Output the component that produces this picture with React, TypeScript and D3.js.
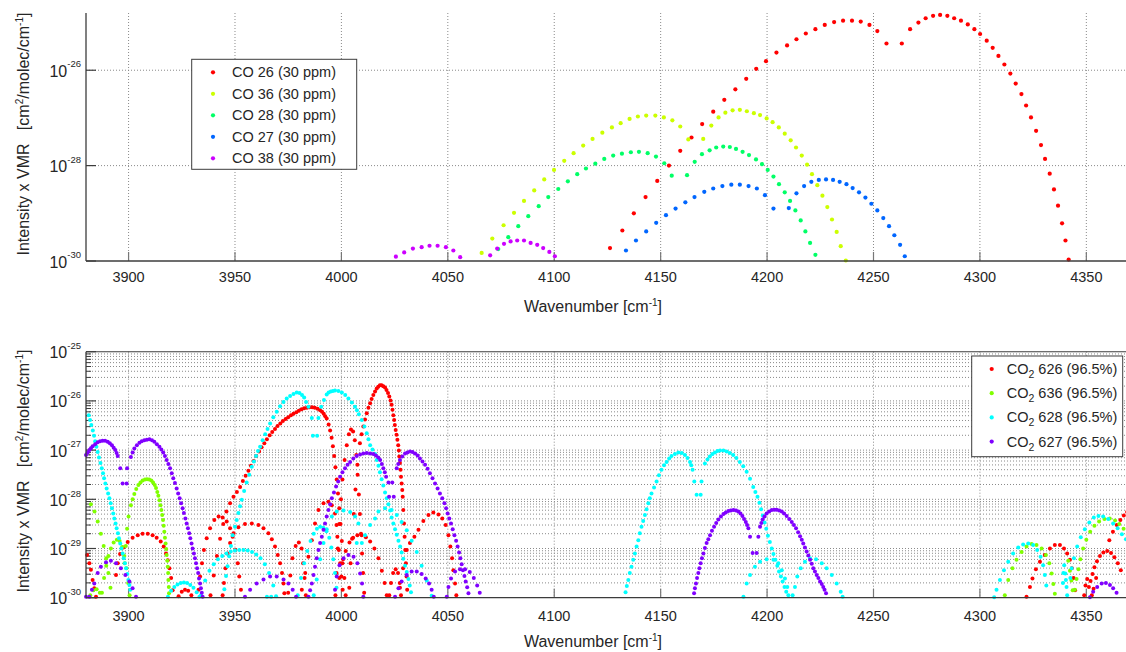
import React from 'react';
import * as d3 from 'd3';

// Each point: [wavenumber (cm^-1), log10(line intensity x VMR)]
type Pt = [number, number];

// ---------- Upper panel: CO isotopologues (30 ppm) ----------
const co26: Pt[] = [
  [4126.2,-29.73],[4132.0,-29.36],[4137.4,-29.00],[4142.9,-28.66],[4148.4,-28.32],[4153.9,-28.00],[4159.2,-27.69],
  [4164.5,-27.41],[4169.5,-27.13],[4174.7,-26.87],[4179.9,-26.62],[4185.1,-26.40],[4190.2,-26.18],[4194.9,-25.97],
  [4199.5,-25.81],[4204.4,-25.63],[4209.4,-25.48],[4213.8,-25.35],[4218.2,-25.23],[4222.7,-25.14],[4227.1,-25.05],
  [4231.5,-24.99],[4235.7,-24.96],[4239.9,-24.96],[4244.0,-24.98],[4248.1,-25.05],[4251.8,-25.18],[4256.1,-25.44],
  [4263.3,-25.44],[4267.2,-25.14],[4271.1,-25.00],[4274.5,-24.91],[4278.0,-24.86],[4281.3,-24.84],[4284.7,-24.86],
  [4287.9,-24.91],[4291.1,-24.96],[4294.3,-25.04],[4297.4,-25.14],[4300.1,-25.24],[4303.2,-25.38],[4306.0,-25.53],
  [4308.7,-25.70],[4311.5,-25.88],[4314.3,-26.07],[4316.8,-26.28],[4319.5,-26.50],[4321.7,-26.74],[4324.0,-26.99],
  [4326.4,-27.27],[4328.7,-27.57],[4330.6,-27.86],[4332.8,-28.17],[4334.8,-28.50],[4336.7,-28.84],[4338.6,-29.21],
  [4340.2,-29.57],[4341.7,-29.97],
];
const co36: Pt[] = [
  [4065.9,-29.83],[4070.9,-29.53],[4076.2,-29.25],[4081.1,-28.99],[4085.8,-28.74],[4090.6,-28.52],[4095.3,-28.29],
  [4099.9,-28.09],[4104.7,-27.90],[4109.1,-27.74],[4113.6,-27.58],[4118.0,-27.44],[4122.6,-27.31],[4127.1,-27.20],
  [4131.2,-27.11],[4135.4,-27.02],[4139.3,-26.97],[4143.2,-26.95],[4147.5,-26.95],[4151.5,-26.99],[4155.5,-27.05],
  [4159.2,-27.18],[4163.0,-27.45],[4170.0,-27.44],[4173.8,-27.16],[4177.2,-26.99],[4180.4,-26.89],[4183.8,-26.84],
  [4187.2,-26.83],[4190.5,-26.86],[4193.8,-26.90],[4196.7,-26.94],[4199.8,-27.01],[4202.6,-27.09],[4205.5,-27.20],
  [4208.3,-27.33],[4211.1,-27.47],[4213.6,-27.62],[4216.3,-27.79],[4218.8,-27.98],[4221.1,-28.18],[4223.6,-28.41],
  [4226.0,-28.63],[4228.3,-28.87],[4230.5,-29.13],[4232.7,-29.39],[4234.6,-29.69],[4237.0,-29.99],
];
const co28: Pt[] = [
  [4073.7,-29.75],[4078.4,-29.50],[4083.1,-29.27],[4087.8,-29.06],[4092.7,-28.85],[4097.2,-28.66],[4101.9,-28.49],
  [4106.4,-28.33],[4110.8,-28.18],[4114.9,-28.06],[4119.3,-27.96],[4123.5,-27.86],[4127.7,-27.79],[4131.8,-27.75],
  [4136.0,-27.72],[4139.8,-27.71],[4143.9,-27.74],[4147.8,-27.81],[4151.7,-27.95],[4155.2,-28.21],[4162.4,-28.20],
  [4166.0,-27.92],[4169.4,-27.76],[4173.0,-27.68],[4176.1,-27.62],[4179.4,-27.60],[4182.5,-27.61],[4185.4,-27.65],
  [4188.5,-27.71],[4191.5,-27.78],[4194.8,-27.87],[4197.6,-27.97],[4200.3,-28.09],[4203.0,-28.23],[4205.6,-28.39],
  [4208.3,-28.56],[4210.8,-28.74],[4213.3,-28.94],[4215.8,-29.15],[4218.0,-29.38],[4220.2,-29.62],[4222.7,-29.87],
];
const co27: Pt[] = [
  [4133.7,-29.78],[4138.4,-29.57],[4143.2,-29.38],[4147.9,-29.20],[4152.5,-29.04],[4157.0,-28.90],[4161.6,-28.77],
  [4165.9,-28.66],[4170.5,-28.55],[4174.7,-28.48],[4179.0,-28.43],[4183.2,-28.40],[4187.2,-28.40],[4191.3,-28.43],
  [4195.2,-28.48],[4199.0,-28.62],[4203.0,-28.90],[4210.2,-28.89],[4213.8,-28.58],[4217.4,-28.43],[4220.8,-28.34],
  [4224.3,-28.30],[4227.7,-28.29],[4231.0,-28.30],[4234.1,-28.34],[4237.3,-28.39],[4240.2,-28.47],[4243.2,-28.56],
  [4246.2,-28.67],[4249.0,-28.80],[4251.8,-28.94],[4254.6,-29.10],[4257.3,-29.27],[4259.8,-29.46],[4262.5,-29.66],
  [4264.7,-29.90],
];
const co38: Pt[] = [
  [4025.6,-29.91],[4029.5,-29.82],[4033.6,-29.74],[4037.7,-29.71],[4041.4,-29.68],[4045.2,-29.68],[4049.1,-29.71],
  [4052.6,-29.78],[4055.8,-29.92],[4069.9,-29.88],[4073.2,-29.74],[4076.4,-29.64],[4079.5,-29.59],[4082.6,-29.57],
  [4085.8,-29.57],[4088.9,-29.62],[4092.0,-29.66],[4094.8,-29.73],[4097.7,-29.81],[4100.3,-29.90],
];

// ---------- Lower panel: CO2 isotopologues (96.5%) ----------
const co2_626: Pt[] = [
  [3880.5,-29.13],[3881.6,-29.30],[3882.3,-29.43],[3883.1,-29.64],[3883.9,-29.81],[3884.7,-29.98],
  [3894.1,-29.54],[3894.9,-29.30],[3896.0,-29.11],[3897.5,-28.98],[3899.6,-28.87],[3901.9,-28.78],[3904.3,-28.73],
  [3906.6,-28.70],[3909.0,-28.70],[3911.3,-28.73],[3913.2,-28.78],[3915.1,-28.86],[3916.5,-28.96],[3917.6,-29.10],
  [3918.4,-29.24],[3919.2,-29.40],[3920.0,-29.60],[3920.7,-29.85],
  [3923.5,-29.97],[3925.0,-29.88],[3926.5,-29.84],[3928.0,-29.86],[3929.5,-29.95],
  [3932.9,-29.84],[3933.6,-29.57],[3934.5,-29.30],[3935.4,-29.03],[3936.7,-28.79],[3938.3,-28.59],[3940.3,-28.42],
  [3942.3,-28.35],[3944.2,-28.37],[3946.1,-28.45],[3947.7,-28.59],[3948.9,-28.76],[3950.2,-29.03],[3951.3,-29.30],
  [3952.0,-29.57],[3952.8,-29.84],
  [3944.2,-29.95],[3944.8,-29.70],[3945.5,-29.40],[3946.5,-29.10],[3947.7,-28.89],[3949.3,-28.69],[3951.6,-28.57],
  [3954.7,-28.50],[3957.9,-28.49],[3961.0,-28.52],[3963.4,-28.59],[3965.7,-28.69],[3967.3,-28.81],[3968.8,-28.96],
  [3970.1,-29.13],[3971.2,-29.30],[3972.1,-29.50],[3972.8,-29.71],[3973.2,-29.91],
  [3938.5,-29.95],[3940.0,-29.55],[3941.5,-29.15],[3943.0,-28.80],[3944.5,-28.50],[3946.0,-28.25],[3947.7,-28.08],
  [3949.3,-27.95],[3952.4,-27.75],[3955.0,-27.52],[3957.5,-27.32],[3960.0,-27.12],[3962.5,-26.94],[3965.0,-26.78],
  [3967.5,-26.63],[3970.0,-26.51],[3972.5,-26.41],[3975.0,-26.33],[3977.5,-26.26],[3980.0,-26.20],[3982.5,-26.15],
  [3985.0,-26.13],[3987.5,-26.14],[3990.0,-26.19],[3991.7,-26.26],[3993.1,-26.36],[3994.0,-26.48],[3994.7,-26.60],
  [3995.4,-26.75],[3996.0,-26.92],[3996.6,-27.12],[3997.2,-27.35],[3997.8,-27.60],[3998.4,-27.88],[3999.0,-28.18],
  [3999.6,-28.50],[4000.2,-28.85],[4000.8,-29.22],[4001.4,-29.60],[4002.0,-29.95],
  [3950.9,-27.85],[3953.7,-27.63],[3956.3,-27.42],[3958.8,-27.22],[3961.3,-27.03],[3963.8,-26.86],[3966.3,-26.70],
  [3968.8,-26.57],[3971.3,-26.46],[3973.8,-26.37],[3976.3,-26.29],[3978.8,-26.23],[3981.3,-26.17],[3983.8,-26.14],
  [3986.3,-26.13],[3988.8,-26.16],[3990.9,-26.22],[3992.4,-26.31],
  [3975.0,-29.90],[3976.0,-29.55],[3977.0,-29.20],[3978.5,-28.95],[3980.0,-28.88],[3981.3,-29.00],[3982.0,-29.30],
  [3982.7,-29.60],[3983.3,-29.95],
  [3981.4,-29.84],[3983.0,-29.50],[3984.5,-29.17],[3986.1,-28.83],[3987.6,-28.49],[3989.2,-28.22],[3991.6,-28.08],
  [3993.9,-28.05],[3995.5,-28.12],[3997.0,-28.29],[3997.7,-28.52],[3998.1,-28.76],[3998.8,-29.03],[3999.4,-29.30],
  [4000.0,-29.57],[4000.6,-29.84],
  [3997.2,-29.95],[3997.7,-29.50],[3998.3,-29.00],[3999.0,-28.50],[3999.8,-28.00],[4000.5,-27.60],[4001.5,-27.20],
  [4002.5,-26.90],[4003.5,-26.68],[4004.5,-26.58],[4005.5,-26.62],[4006.3,-26.80],[4007.0,-27.10],[4007.6,-27.50],
  [4008.2,-27.90],[4008.7,-28.30],[4009.2,-28.70],[4009.7,-29.10],[4010.2,-29.50],[4010.7,-29.90],
  [3999.0,-29.60],[4000.5,-29.30],[4002.0,-29.05],[4003.8,-28.88],[4005.5,-28.78],[4007.5,-28.73],[4009.5,-28.73],
  [4011.5,-28.77],[4013.5,-28.86],[4015.5,-29.00],[4017.4,-29.20],[4019.0,-29.45],[4020.3,-29.70],[4021.3,-29.95],
  [4003.7,-29.80],[4004.3,-29.30],[4005.0,-28.80],[4005.8,-28.30],[4006.6,-27.80],[4007.5,-27.30],[4008.7,-26.86],
  [4010.3,-26.52],[4011.9,-26.25],[4013.5,-26.05],[4015.0,-25.88],[4016.6,-25.75],[4018.1,-25.68],[4019.7,-25.70],
  [4021.2,-25.78],[4022.5,-25.91],[4023.6,-26.08],[4024.4,-26.29],[4025.1,-26.49],[4025.9,-26.69],[4026.7,-26.90],
  [4027.2,-27.13],[4027.8,-27.40],[4028.3,-27.68],[4028.8,-27.95],[4029.1,-28.22],[4029.4,-28.49],[4029.7,-28.76],
  [4030.0,-29.03],[4030.3,-29.30],[4030.6,-29.57],[4030.9,-29.84],
  [4009.5,-26.68],[4011.1,-26.38],[4012.7,-26.14],[4014.2,-25.96],[4015.8,-25.81],[4017.3,-25.71],[4018.9,-25.68],
  [4020.5,-25.73],[4021.9,-25.84],[4023.1,-25.99],[4024.0,-26.18],[4024.8,-26.39],[4025.5,-26.59],[4026.3,-26.79],
  [4027.0,-27.01],[4027.5,-27.26],[4028.0,-27.54],[4028.6,-27.81],
  [4022.5,-29.95],[4023.3,-29.70],[4024.3,-29.50],[4025.5,-29.42],[4026.6,-29.50],[4027.4,-29.70],[4028.0,-29.95],
  [4027.5,-29.80],[4029.0,-29.40],[4030.7,-29.03],[4032.2,-28.89],[4034.3,-28.76],[4036.2,-28.62],[4038.5,-28.44],
  [4040.9,-28.32],[4043.2,-28.27],[4045.6,-28.31],[4047.4,-28.39],[4049.0,-28.52],[4050.3,-28.73],[4051.2,-28.96],
  [4052.0,-29.20],[4052.6,-29.44],[4053.4,-29.71],[4054.0,-29.95],
  [4321.9,-29.98],[4323.5,-29.78],[4324.7,-29.61],[4326.3,-29.42],[4328.2,-29.27],[4330.5,-29.13],[4332.9,-29.00],
  [4335.2,-28.93],[4337.6,-28.93],[4339.5,-29.00],[4341.0,-29.10],[4342.3,-29.23],[4343.2,-29.40],[4344.0,-29.60],
  [4344.7,-29.85],
  [4349.0,-29.95],[4349.6,-29.75],[4350.4,-29.62],[4351.2,-29.78],[4352.0,-29.66],[4352.9,-29.52],[4352.6,-29.95],
  [4353.4,-29.82],[4354.6,-29.60],[4353.8,-29.38],[4355.0,-29.26],[4356.4,-29.15],[4358.0,-29.08],[4359.8,-29.05],
  [4361.6,-29.09],[4363.2,-29.18],[4364.8,-29.30],[4366.2,-29.44],
  [4360.8,-28.83],[4362.5,-28.66],[4364.3,-28.52],[4366.0,-28.42],[4367.6,-28.33],[4369.2,-28.26],
];
const co2_636: Pt[] = [
  [3882.3,-28.10],[3884.0,-28.25],[3885.5,-28.45],[3887.0,-28.70],[3888.3,-28.95],[3889.5,-29.20],[3890.5,-29.50],
  [3891.5,-29.80],
  [3882.0,-29.95],[3883.5,-29.85],[3885.0,-29.83],[3886.5,-29.90],
  [3887.5,-29.90],[3888.5,-29.60],[3889.5,-29.35],[3890.5,-29.15],[3891.7,-29.00],[3893.0,-28.88],[3894.5,-28.82],
  [3895.8,-28.85],[3897.0,-28.97],[3898.0,-29.15],[3899.0,-29.40],[3899.8,-29.70],[3900.5,-29.95],
  [3898.2,-29.30],[3898.7,-28.95],[3899.3,-28.60],[3900.0,-28.35],[3901.1,-28.12],[3902.7,-27.89],[3904.6,-27.71],
  [3906.6,-27.62],[3908.7,-27.59],[3910.7,-27.62],[3912.3,-27.71],[3913.5,-27.85],[3914.5,-28.02],[3915.4,-28.22],
  [3916.2,-28.42],[3916.8,-28.66],[3917.4,-28.90],[3917.9,-29.13],[3918.4,-29.37],[3918.7,-29.64],[3919.0,-29.91],
  [3901.9,-28.00],[3903.6,-27.79],[3905.6,-27.66],[3907.7,-27.60],[3909.7,-27.60],[3911.5,-27.66],[3912.9,-27.77],
  [3914.0,-27.93],[3915.0,-28.12],[3915.8,-28.32],[3916.5,-28.54],[3917.1,-28.78],[3917.7,-29.01],[3918.2,-29.25],
  [3918.6,-29.50],[3918.9,-29.78],
  [4311.7,-29.95],[4313.3,-29.64],[4315.3,-29.40],[4317.2,-29.23],[4319.6,-29.07],[4321.9,-28.96],[4324.3,-28.91],
  [4326.6,-28.93],[4329.0,-29.00],[4331.0,-29.13],[4332.6,-29.30],[4333.7,-29.51],[4334.5,-29.72],[4335.2,-29.92],
  [4341.5,-29.25],[4342.3,-29.45],[4343.0,-29.65],[4343.6,-29.85],
  [4344.6,-29.84],[4345.4,-29.62],[4346.3,-29.42],[4347.2,-29.22],[4348.5,-29.00],[4350.0,-28.82],[4351.8,-28.66],
  [4353.8,-28.54],[4356.0,-28.45],[4358.5,-28.40],[4361.0,-28.39],[4363.5,-28.43],[4365.5,-28.50],[4367.5,-28.60],
  [4369.5,-28.72],
];
const co2_628: Pt[] = [
  [3881.3,-26.29],[3882.5,-26.49],[3883.8,-26.71],[3884.9,-26.93],[3886.1,-27.15],[3887.4,-27.37],[3888.5,-27.57],
  [3889.7,-27.78],[3891.0,-27.98],[3892.2,-28.18],[3893.3,-28.39],[3894.4,-28.59],[3895.5,-28.79],[3896.6,-29.00],
  [3897.7,-29.20],[3898.8,-29.40],[3899.9,-29.64],[3900.8,-29.84],
  [3881.9,-26.39],[3883.2,-26.60],[3884.3,-26.82],[3885.5,-27.04],[3886.8,-27.26],[3888.0,-27.47],[3889.1,-27.68],
  [3890.4,-27.88],[3891.6,-28.08],[3892.8,-28.29],[3893.9,-28.49],[3895.0,-28.69],[3896.1,-28.90],[3897.2,-29.10],
  [3898.3,-29.30],[3899.4,-29.52],[3900.4,-29.74],
  [3918.5,-29.98],[3920.0,-29.86],[3921.5,-29.78],[3923.0,-29.73],[3924.5,-29.70],[3926.0,-29.69],[3927.5,-29.70],
  [3929.0,-29.74],[3930.5,-29.80],[3932.0,-29.89],[3933.3,-29.98],
  [3934.0,-29.95],[3936.0,-29.65],[3938.0,-29.45],[3940.0,-29.32],[3942.0,-29.22],[3944.0,-29.15],[3946.0,-29.10],
  [3948.0,-29.06],[3950.0,-29.04],[3952.0,-29.03],[3954.0,-29.03],[3956.0,-29.04],[3958.0,-29.07],[3960.0,-29.12],
  [3962.0,-29.20],[3964.0,-29.32],[3966.0,-29.50],[3968.0,-29.75],[3969.3,-29.97],[3965.0,-29.98],[3967.0,-29.98],
  [3945.0,-29.83],[3945.8,-29.56],[3947.3,-29.16],[3948.9,-28.73],[3950.0,-28.56],[3951.6,-28.28],[3953.2,-28.01],
  [3955.5,-27.66],[3957.9,-27.34],[3959.9,-27.12],[3961.8,-26.93],[3964.2,-26.68],[3966.5,-26.46],[3969.6,-26.22],
  [3972.8,-26.02],[3975.9,-25.90],[3979.0,-25.83],[3981.5,-25.88],[3983.4,-26.02],[3984.5,-26.12],
  [3946.5,-29.36],[3948.1,-28.95],[3950.8,-28.42],[3952.4,-28.14],[3954.3,-27.83],[3956.7,-27.50],[3958.9,-27.23],
  [3960.8,-27.02],[3963.0,-26.80],[3965.3,-26.57],[3968.0,-26.33],[3971.2,-26.11],[3974.3,-25.95],[3977.5,-25.86],
  [3980.3,-25.84],[3982.5,-25.93],
  [3986.1,-26.35],[3989.2,-26.35],[3986.6,-26.71],[3988.6,-26.71],
  [3990.5,-26.12],[3991.8,-25.98],[3993.1,-25.87],[3995.0,-25.81],[3997.0,-25.79],[4000.2,-25.83],[4003.3,-25.95],
  [4006.4,-26.12],[4008.2,-26.27],[4009.6,-26.39],[4011.9,-26.66],[4013.5,-26.90],[4015.8,-27.08],[4017.4,-27.32],
  [4018.9,-27.59],[4020.5,-27.86],[4022.1,-28.10],[4023.6,-28.37],[4025.2,-28.61],[4026.8,-28.84],[4028.3,-29.08],
  [4029.9,-29.35],[4031.5,-29.62],[4032.7,-29.89],
  [3994.0,-25.83],[3996.0,-25.80],[3998.6,-25.80],[4001.8,-25.88],[4004.9,-26.03],[4007.3,-26.19],[4010.8,-26.52],
  [4012.7,-26.78],[4014.6,-26.99],[4016.6,-27.20],[4018.1,-27.45],[4019.7,-27.72],[4021.3,-27.98],[4022.9,-28.23],
  [4024.4,-28.49],[4026.0,-28.72],[4027.6,-28.96],[4029.1,-29.21],[4030.7,-29.48],[4032.1,-29.75],
  [3979.5,-29.95],[3981.0,-29.60],[3982.5,-29.30],[3984.0,-29.05],[3985.5,-28.85],[3987.0,-28.70],[3988.5,-28.60],
  [3990.0,-28.56],[3991.5,-28.58],[3993.0,-28.65],[3994.3,-28.78],[3995.3,-28.98],[3996.2,-29.22],[3997.0,-29.50],
  [3997.7,-29.80],
  [3987.0,-29.95],[3988.4,-29.63],[3990.0,-29.22],[3991.6,-28.89],[3993.1,-28.61],[3995.5,-28.35],[3997.8,-28.25],
  [4001.0,-28.23],[4004.1,-28.26],[4006.4,-28.35],[4008.0,-28.49],[4007.2,-28.89],[4009.6,-28.89],
  [4011.1,-28.73],[4013.5,-28.52],[4015.8,-28.39],[4017.4,-28.25],[4020.5,-28.18],[4023.6,-28.22],[4026.0,-28.32],
  [4028.3,-28.46],[4030.7,-28.63],[4033.0,-28.84],[4035.4,-29.07],[4037.7,-29.35],[4040.1,-29.65],[4042.4,-29.96],
  [4133.5,-29.89],[4134.8,-29.64],[4136.3,-29.37],[4137.9,-29.10],[4139.5,-28.83],[4141.0,-28.56],[4142.6,-28.32],
  [4144.2,-28.08],[4145.7,-27.88],[4148.1,-27.64],[4150.4,-27.40],[4152.8,-27.24],[4155.1,-27.12],[4158.3,-27.05],
  [4161.4,-27.10],[4163.8,-27.24],[4165.0,-27.40],
  [4134.1,-29.76],[4135.5,-29.50],[4137.1,-29.23],[4138.7,-28.96],[4140.2,-28.69],[4141.8,-28.44],[4143.4,-28.20],
  [4144.9,-27.98],[4146.9,-27.76],[4149.2,-27.51],[4151.6,-27.31],[4154.0,-27.17],[4156.7,-27.08],[4159.9,-27.06],
  [4162.6,-27.16],[4164.4,-27.31],
  [4165.8,-27.64],[4169.2,-27.64],[4166.9,-27.91],[4168.8,-27.91],
  [4170.8,-27.27],[4173.1,-27.13],[4175.5,-27.05],[4177.9,-27.01],[4181.0,-27.03],[4184.1,-27.10],[4187.2,-27.24],
  [4190.4,-27.44],[4193.5,-27.75],[4195.5,-27.95],[4197.2,-28.20],[4198.8,-28.47],[4200.4,-28.74],[4202.2,-29.00],
  [4203.9,-29.23],[4205.6,-29.47],[4207.3,-29.67],[4209.0,-29.88],[4210.0,-29.95],[4212.0,-29.95],
  [4172.0,-27.19],[4174.3,-27.08],[4176.7,-27.02],[4179.5,-27.01],[4182.5,-27.06],[4185.6,-27.16],[4188.8,-27.33],
  [4192.0,-27.58],[4194.5,-27.85],[4196.4,-28.07],[4198.0,-28.33],[4199.6,-28.60],[4201.3,-28.87],[4203.0,-29.11],
  [4204.8,-29.35],[4206.5,-29.57],[4208.2,-29.78],
  [4188.9,-29.98],[4190.4,-29.71],[4192.0,-29.54],[4194.3,-29.37],[4196.7,-29.27],[4199.8,-29.22],[4203.0,-29.23],
  [4205.3,-29.30],[4206.9,-29.44],[4208.4,-29.61],[4209.5,-29.78],
  [4213.1,-29.78],[4214.2,-29.57],[4215.8,-29.40],[4217.8,-29.27],[4220.2,-29.20],[4223.0,-29.22],[4225.7,-29.30],
  [4228.0,-29.40],[4230.4,-29.54],[4232.7,-29.71],[4234.6,-29.88],[4235.5,-29.98],
  [4306.7,-29.99],[4307.8,-29.84],[4309.4,-29.64],[4311.3,-29.44],[4313.3,-29.27],[4315.6,-29.10],[4318.0,-28.98],
  [4320.3,-28.92],[4322.7,-28.90],[4325.0,-28.93],[4326.9,-29.03],[4328.5,-29.17],[4329.7,-29.34],[4330.5,-29.54],
  [4331.2,-29.75],
  [4339.0,-29.70],[4339.2,-29.50],[4339.6,-29.34],[4340.1,-29.51],[4340.4,-29.64],[4340.7,-29.78],[4341.0,-29.95],
  [4342.5,-29.60],[4343.1,-29.40],[4344.2,-29.20],[4345.7,-28.96],[4347.4,-28.77],[4349.3,-28.61],[4351.4,-28.47],
  [4353.5,-28.37],[4355.7,-28.34],[4357.9,-28.35],[4360.3,-28.40],[4362.6,-28.49],[4364.7,-28.59],[4366.7,-28.71],
  [4368.6,-28.81],
];
const co2_627: Pt[] = [
  [3880.0,-29.98],[3881.6,-29.98],[3882.8,-29.84],[3883.9,-29.71],[3885.5,-29.50],[3887.0,-29.37],[3889.4,-29.28],
  [3891.7,-29.25],[3894.1,-29.30],[3896.4,-29.40],[3898.5,-29.54],[3900.4,-29.67],[3901.9,-29.81],[3903.5,-29.98],
  [3880.0,-27.10],[3881.6,-27.00],[3883.1,-26.92],[3885.5,-26.84],[3887.8,-26.81],[3890.2,-26.83],[3892.2,-26.90],
  [3893.8,-27.00],[3894.9,-27.12],
  [3880.8,-27.05],[3882.3,-26.96],[3884.3,-26.88],[3886.6,-26.82],[3889.0,-26.81],[3891.2,-26.86],[3893.0,-26.95],
  [3894.4,-27.06],
  [3896.1,-27.37],[3899.3,-27.37],[3897.2,-27.68],[3899.1,-27.68],
  [3901.1,-27.14],[3902.7,-26.97],[3905.1,-26.85],[3907.4,-26.80],[3909.8,-26.78],[3912.1,-26.83],[3914.5,-26.93],
  [3916.3,-27.05],[3917.9,-27.20],[3919.5,-27.37],[3921.0,-27.57],[3922.6,-27.78],[3924.0,-27.98],[3925.4,-28.18],
  [3926.7,-28.39],[3927.9,-28.59],[3929.0,-28.79],[3930.1,-29.00],[3931.2,-29.20],[3932.2,-29.40],[3933.1,-29.61],
  [3934.0,-29.81],[3934.8,-29.98],
  [3901.9,-27.05],[3903.9,-26.90],[3906.2,-26.82],[3908.6,-26.79],[3911.0,-26.80],[3913.3,-26.88],[3915.4,-26.99],
  [3917.1,-27.12],[3918.7,-27.28],[3920.3,-27.47],[3921.8,-27.67],[3923.3,-27.88],[3924.7,-28.08],[3926.0,-28.28],
  [3927.3,-28.49],[3928.5,-28.69],[3929.6,-28.90],[3930.7,-29.10],[3931.7,-29.30],[3932.7,-29.50],[3933.6,-29.71],
  [3934.4,-29.90],
  [3954.7,-29.98],[3957.1,-29.84],[3960.2,-29.71],[3963.4,-29.63],[3966.5,-29.57],[3969.6,-29.57],[3972.8,-29.63],
  [3975.1,-29.71],[3977.1,-29.84],[3978.7,-29.98],
  [3984.5,-29.98],[3986.1,-29.71],[3987.6,-29.37],[3989.2,-29.03],[3990.8,-28.76],[3992.3,-28.49],[3993.9,-28.22],
  [3995.5,-27.98],[3997.5,-27.74],[3999.4,-27.54],[4001.7,-27.37],[4004.1,-27.24],[4007.2,-27.12],[4010.3,-27.07],
  [4013.5,-27.07],[4016.2,-27.11],[4018.2,-27.20],[4019.7,-27.37],[4021.0,-27.54],
  [3985.3,-29.85],[3986.9,-29.54],[3988.4,-29.20],[3990.0,-28.89],[3991.6,-28.62],[3993.1,-28.35],[3994.7,-28.10],
  [3996.5,-27.86],[3998.5,-27.64],[4000.5,-27.45],[4002.9,-27.30],[4005.6,-27.17],[4008.8,-27.09],[4011.9,-27.06],
  [4015.0,-27.08],[4017.3,-27.15],[4019.0,-27.28],[4020.4,-27.45],
  [4022.1,-27.66],[4023.9,-27.66],[4022.4,-27.95],[4024.6,-27.95],
  [4026.0,-27.37],[4027.5,-27.20],[4029.9,-27.07],[4032.2,-27.03],[4034.6,-27.07],[4036.9,-27.17],[4039.3,-27.30],
  [4041.6,-27.47],[4044.0,-27.68],[4046.3,-27.88],[4048.4,-28.08],[4049.9,-28.29],[4051.5,-28.49],[4053.1,-28.73],
  [4054.6,-28.96],[4055.9,-29.20],[4057.1,-29.44],[4058.4,-29.67],[4059.7,-29.91],
  [4026.7,-27.28],[4028.6,-27.13],[4031.0,-27.05],[4033.4,-27.04],[4035.8,-27.11],[4038.1,-27.23],[4040.5,-27.38],
  [4042.8,-27.57],[4045.2,-27.78],[4047.4,-27.98],[4049.2,-28.18],[4050.7,-28.39],[4052.3,-28.61],[4053.9,-28.84],
  [4055.3,-29.08],[4056.5,-29.32],[4057.8,-29.56],[4059.1,-29.79],
  [3997.0,-29.84],[3997.8,-29.57],[3999.1,-29.34],[4001.0,-29.20],[4003.3,-29.13],[4005.7,-29.17],[4007.5,-29.30],
  [4008.8,-29.51],[4009.7,-29.71],[4010.3,-29.98],
  [4025.2,-29.98],[4026.8,-29.81],[4028.3,-29.67],[4030.7,-29.54],[4033.0,-29.47],[4035.4,-29.47],[4037.7,-29.52],
  [4039.6,-29.61],[4041.2,-29.71],[4042.4,-29.84],[4043.4,-29.98],
  [4049.5,-29.98],[4050.3,-29.78],[4051.5,-29.61],[4053.4,-29.47],[4055.7,-29.42],[4058.1,-29.42],[4060.3,-29.48],
  [4062.2,-29.60],[4063.8,-29.75],[4065.0,-29.90],
  [4165.7,-29.91],[4166.6,-29.71],[4167.7,-29.50],[4168.8,-29.30],[4170.1,-29.10],[4171.6,-28.89],[4173.2,-28.73],
  [4175.1,-28.56],[4177.1,-28.41],[4179.5,-28.30],[4181.8,-28.24],[4184.2,-28.22],[4186.5,-28.25],[4188.4,-28.34],
  [4190.0,-28.46],[4191.2,-28.59],
  [4166.1,-29.81],[4167.1,-29.60],[4168.2,-29.40],[4169.4,-29.20],[4170.8,-28.99],[4172.4,-28.81],[4174.1,-28.64],
  [4176.1,-28.48],[4178.3,-28.35],[4180.6,-28.27],[4183.0,-28.23],[4185.4,-28.23],[4187.5,-28.29],[4189.2,-28.40],
  [4190.6,-28.52],
  [4192.0,-28.76],[4195.9,-28.76],[4193.2,-29.09],[4195.1,-29.09],
  [4196.7,-28.56],[4197.9,-28.41],[4199.8,-28.29],[4202.2,-28.22],[4204.5,-28.21],[4206.9,-28.25],[4209.2,-28.34],
  [4211.6,-28.46],[4213.6,-28.59],[4215.5,-28.75],[4217.0,-28.90],[4218.6,-29.06],[4220.2,-29.23],[4221.7,-29.40],
  [4223.3,-29.54],[4224.9,-29.67],[4226.4,-29.78],[4227.7,-29.91],
  [4197.3,-28.48],[4198.8,-28.35],[4201.0,-28.25],[4203.4,-28.21],[4205.7,-28.23],[4208.0,-28.29],[4210.4,-28.40],
  [4212.6,-28.52],[4214.6,-28.67],[4216.3,-28.82],[4217.8,-28.98],[4219.4,-29.14],[4221.0,-29.31],[4222.5,-29.47],
  [4224.1,-29.60],[4225.7,-29.72],[4227.0,-29.84],
  [4351.7,-29.99],[4353.2,-29.88],[4355.1,-29.78],[4357.2,-29.71],[4359.2,-29.70],[4361.1,-29.74],[4362.6,-29.81],
  [4364.2,-29.90],
];

// Axis tick values
const xTicks = [3900, 3950, 4000, 4050, 4100, 4150, 4200, 4250, 4300, 4350];
const topYTicks = [-30, -28, -26];
const botYTicks = [-30, -29, -28, -27, -26, -25];

const topSeries = [
  { label: 'CO 26 (30 ppm)', color: '#ff0000', data: co26 },
  { label: 'CO 36 (30 ppm)', color: '#ccff00', data: co36 },
  { label: 'CO 28 (30 ppm)', color: '#00ff66', data: co28 },
  { label: 'CO 27 (30 ppm)', color: '#0066ff', data: co27 },
  { label: 'CO 38 (30 ppm)', color: '#cc00ff', data: co38 },
];
const botSeries = [
  { iso: '626', color: '#ff0000', data: co2_626 },
  { iso: '636', color: '#80ff00', data: co2_636 },
  { iso: '628', color: '#00ffff', data: co2_628 },
  { iso: '627', color: '#8000ff', data: co2_627 },
];

const FONT = '"Liberation Sans", Arial, Helvetica, sans-serif';
const TXT = '#262626';
const AXIS = '#3c3c3c';
const GRID = '#8a8a8a';

export default function App() {
  const x = d3.scaleLinear().domain([3880, 4370]).range([86, 1128.9]);
  const yTop = d3.scaleLog().domain([1e-30, Math.pow(10, -24.8)]).range([261, 13]);
  const yBot = d3.scaleLog().domain([1e-30, 1e-25]).range([597.7, 351.7]);
  const xR = 1126;

  const yLabel = (cx: number, cy: number) => (
    <text transform={`translate(${cx},${cy}) rotate(-90)`} textAnchor="middle" fontSize={16} fill={TXT}>
      Intensity x VMR{'\u00a0\u00a0\u00a0'}[cm<tspan fontSize={10} dy={-6}>2</tspan>
      <tspan dy={6}>/molec/cm</tspan><tspan fontSize={10} dy={-6}>-1</tspan><tspan dy={6}>]</tspan>
    </text>
  );
  const xLabel = (cy: number) => (
    <text x={593} y={cy} textAnchor="middle" fontSize={16} fill={TXT}>
      Wavenumber [cm<tspan fontSize={10} dy={-6}>-1</tspan><tspan dy={6}>]</tspan>
    </text>
  );
  const yTickLabel = (e: number, yy: number) => (
    <text key={e} x={81} y={yy + 6.5} textAnchor="end" fontSize={16} fill={TXT}>
      10<tspan fontSize={9.5} dy={-9.3}>{String(e)}</tspan>
    </text>
  );

  // minor decades for the lower panel
  const minor: number[] = [];
  for (let d = -30; d < -25; d++) for (let m = 2; m <= 9; m++) minor.push(m * Math.pow(10, d));

  return (
    <svg width={1126} height={652} style={{ position: 'absolute', left: 0, top: 0, background: '#fff' }}
      fontFamily={FONT}>
      <rect x={0} y={0} width={1126} height={652} fill="#fff" />

      {/* ===== upper panel ===== */}
      <g>
        {xTicks.map(t => (
          <line key={t} x1={x(t)} x2={x(t)} y1={13} y2={261} stroke={GRID} strokeDasharray="1 2" />
        ))}
        {[-28, -26].map(e => (
          <line key={e} x1={86} x2={xR} y1={yTop(Math.pow(10, e))} y2={yTop(Math.pow(10, e))} stroke={GRID} strokeDasharray="1 2" />
        ))}
        {xTicks.map(t => (
          <line key={'tt' + t} x1={x(t)} x2={x(t)} y1={261} y2={252} stroke="#777" strokeWidth={1.2} />
        ))}
        {topYTicks.map(e => (
          <line key={'yt' + e} x1={86} x2={96} y1={yTop(Math.pow(10, e))} y2={yTop(Math.pow(10, e))} stroke={AXIS} strokeWidth={1.2} />
        ))}
        {topSeries.map(s => (
          <g key={s.label} fill={s.color}>
            {s.data.map((p, i) => (
              <circle key={i} cx={x(p[0])} cy={yTop(Math.pow(10, p[1]))} r={2.1} />
            ))}
          </g>
        ))}
        <line x1={86} x2={86} y1={13} y2={261} stroke={AXIS} strokeWidth={1.3} />
        <line x1={86} x2={xR} y1={261} y2={261} stroke={AXIS} strokeWidth={1.3} />
        {xTicks.map(t => (
          <text key={'xl' + t} x={x(t)} y={281.5} textAnchor="middle" fontSize={14.5} fill={TXT}>{t}</text>
        ))}
        {topYTicks.map(e => yTickLabel(e, yTop(Math.pow(10, e))))}
        {xLabel(311.5)}
        {yLabel(29, 134)}

        {/* legend */}
        <rect x={191.7} y={59.3} width={165} height={110} fill="#fff" stroke={AXIS} strokeWidth={1} />
        {topSeries.map((s, i) => (
          <g key={'lg' + i}>
            <circle cx={213} cy={72.3 + i * 21.5} r={2.1} fill={s.color} />
            <text x={232} y={72.3 + i * 21.5 + 5} fontSize={14.5} fill={TXT}>{s.label}</text>
          </g>
        ))}
      </g>

      {/* ===== lower panel ===== */}
      <g>
        {minor.map((v, i) => (
          <line key={'mn' + i} x1={86} x2={xR} y1={yBot(v)} y2={yBot(v)} stroke={GRID} strokeDasharray="1 2" />
        ))}
        {botYTicks.slice(1, 5).map(e => (
          <line key={'mj' + e} x1={86} x2={xR} y1={yBot(Math.pow(10, e))} y2={yBot(Math.pow(10, e))} stroke={GRID} strokeDasharray="1 2" />
        ))}
        {xTicks.map(t => (
          <line key={'bg' + t} x1={x(t)} x2={x(t)} y1={351.7} y2={597.7} stroke={GRID} strokeDasharray="1 2" />
        ))}
        {xTicks.map(t => (
          <line key={'bt' + t} x1={x(t)} x2={x(t)} y1={597.7} y2={588.7} stroke="#777" strokeWidth={1.2} />
        ))}
        {minor.map((v, i) => (
          <line key={'mt' + i} x1={86} x2={91} y1={yBot(v)} y2={yBot(v)} stroke={AXIS} />
        ))}
        {botYTicks.map(e => (
          <line key={'byt' + e} x1={86} x2={96} y1={yBot(Math.pow(10, e))} y2={yBot(Math.pow(10, e))} stroke={AXIS} strokeWidth={1.2} />
        ))}
        {botSeries.map(s => (
          <g key={s.iso} fill={s.color}>
            {s.data.map((p, i) => (
              <circle key={i} cx={x(p[0])} cy={yBot(Math.pow(10, p[1]))} r={2.0} />
            ))}
          </g>
        ))}
        <line x1={86} x2={86} y1={351.7} y2={597.7} stroke={AXIS} strokeWidth={1.3} />
        <line x1={86} x2={xR} y1={597.7} y2={597.7} stroke={AXIS} strokeWidth={1.3} />
        <line x1={86} x2={xR} y1={351.7} y2={351.7} stroke={AXIS} strokeWidth={1.1} />
        {xTicks.map(t => (
          <text key={'bxl' + t} x={x(t)} y={620.5} textAnchor="middle" fontSize={14.5} fill={TXT}>{t}</text>
        ))}
        {botYTicks.map(e => yTickLabel(e, yBot(Math.pow(10, e))))}
        {xLabel(647)}
        {yLabel(29, 471)}

        {/* legend */}
        <rect x={971.7} y={356} width={151} height={100.7} fill="#fff" stroke={AXIS} strokeWidth={1} />
        {botSeries.map((s, i) => (
          <g key={'blg' + i}>
            <circle cx={991.7} cy={369 + i * 24.2} r={2.1} fill={s.color} />
            <text x={1006.7} y={369 + i * 24.2 + 5} fontSize={14.5} fill={TXT}>
              CO<tspan fontSize={10.5} dy={4}>2</tspan><tspan dy={-4}> {s.iso} (96.5%)</tspan>
            </text>
          </g>
        ))}
      </g>
    </svg>
  );
}
